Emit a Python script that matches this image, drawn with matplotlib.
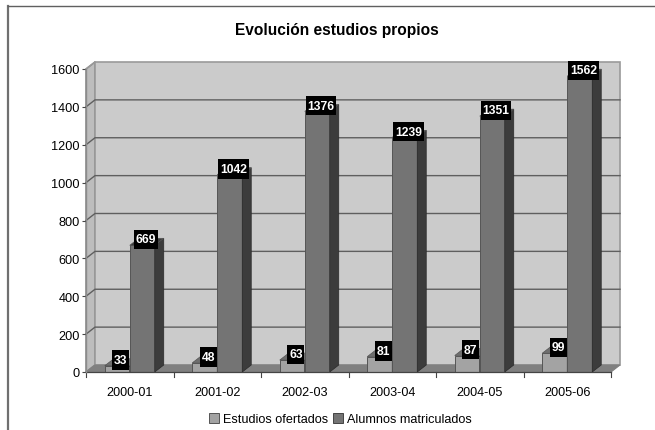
import matplotlib
matplotlib.use("Agg")
import matplotlib.pyplot as plt
from matplotlib.patches import Polygon, Patch

plt.rcParams['font.family'] = ['Liberation Sans', 'DejaVu Sans']

# data
cursos = ["2000-01", "2001-02", "2002-03", "2003-04", "2004-05", "2005-06"]
ofertados = [33, 48, 63, 81, 87, 99]
alumnos = [669, 1042, 1376, 1239, 1351, 1562]
y_ticks = [0, 200, 400, 600, 800, 1000, 1200, 1400, 1600]

W, H = 655, 431
fig = plt.figure(figsize=(W / 100, H / 100), dpi=100)

# front plane of the fake 3d box, in pixels
left, right, top, bottom = 86, 611, 70, 373
ax = fig.add_axes([left / W, 1 - bottom / H, (right - left) / W, (bottom - top) / H])
ax.set_xlim(-0.5, 5.5)
ax.set_ylim(0, 1600)
ax.patch.set_visible(False)
for s in ax.spines.values():
    s.set_visible(False)

# depth of the box in data units
dx = 9 / ((right - left) / 6)
dy = 7 * 1600 / (bottom - top)
x0, x1 = -0.5, 5.5
bw = 25 / ((right - left) / 6)


def poly(pts, fc, ec="none", lw=0.8, z=1):
    ax.add_patch(Polygon(pts, closed=True, fc=fc, ec=ec, lw=lw, zorder=z, clip_on=False))


# walls
poly([(x0, 0), (x0 + dx, dy), (x0 + dx, 1600 + dy), (x0, 1600)], "#bdbdbd", "#8c8c8c", 1.2)
poly([(x0 + dx, dy), (x1 + dx, dy), (x1 + dx, 1600 + dy), (x0 + dx, 1600 + dy)], "#cbcbcb", "#9a9a9a", 1.2)
poly([(x0, 0), (x1, 0), (x1 + dx, dy), (x0 + dx, dy)], "#808080", "#808080", 0.8)

# grid lines, back wall and the slanted stub on the side wall
for t in y_ticks[1:-1]:
    ax.plot([x0, x0 + dx, x1 + dx], [t, t + dy, t + dy], color="#5f5f5f", lw=1.0, zorder=2, clip_on=False)
ax.plot([x0, x0 + dx], [1600, 1600 + dy], color="#9a9a9a", lw=1.0, zorder=2, clip_on=False)


def bar3d(x, v, front, side, tope):
    a, b = x - bw, x
    ax.bar(a, v, width=bw, align="edge", color=front, edgecolor="#555555", lw=0.7, zorder=3)
    poly([(b, 0), (b + dx, dy), (b + dx, v + dy), (b, v)], side, "#2a2a2a", 0.5, 3)
    poly([(a, v), (b, v), (b + dx, v + dy), (a + dx, v + dy)], tope, "#555555", 0.5, 3)


for i in range(len(cursos)):
    bar3d(i, ofertados[i], "#a3a3a3", "#6e6e6e", "#6e6e6e")
    bar3d(i + bw, alumnos[i], "#747474", "#3c3c3c", "#3c3c3c")

# value labels
for i in range(len(cursos)):
    for x, v in ((i - bw / 2, ofertados[i]), (i + bw / 2, alumnos[i])):
        ax.annotate(str(v), (x, v), xytext=(2.6, 4.2), textcoords="offset points",
                    ha="center", va="center", color="white", fontsize=8.7, fontweight="bold",
                    bbox=dict(boxstyle="square,pad=0.14", mutation_aspect=2.2, fc="black", ec="black", lw=0),
                    zorder=6, annotation_clip=False)

ax.set_yticks(y_ticks)
ax.tick_params(axis="y", labelsize=9.2, length=3, width=0.8, color="#444444", pad=1.5)
ax.set_xticks(range(len(cursos)))
ax.set_xticklabels(cursos)
ax.tick_params(axis="x", length=0, labelsize=9.1, pad=10)
# ticks between the categories
for i in range(len(cursos) + 1):
    ax.plot([x0 + i, x0 + i], [0, -24], color="#444444", lw=0.8, zorder=5, clip_on=False)
ax.plot([x0, x1], [0, 0], color="#444444", lw=0.9, zorder=5, clip_on=False)
ax.plot([x0, x0], [0, 1600], color="#8c8c8c", lw=1.0, zorder=5, clip_on=False)

fig.text(336.5 / W, 1 - 30 / H, "Evolución estudios propios", ha="center", va="center",
         fontsize=11.2, fontweight="bold", color="black")

fig.legend(handles=[Patch(fc="#a3a3a3", ec="#555555", lw=0.7, label="Estudios ofertados"),
                    Patch(fc="#747474", ec="#444444", lw=0.7, label="Alumnos matriculados")],
           loc="center", bbox_to_anchor=(340 / W, 1 - 420 / H), ncol=2, frameon=False,
           fontsize=9.1, handlelength=0.8, handleheight=0.8, handletextpad=0.3,
           columnspacing=0.4, borderpad=0, borderaxespad=0)

# outer frame of the pasted chart, only top and left are visible
fig.add_artist(plt.Line2D([8 / W, 8 / W], [0, 1 - 7 / H], color="#707070", lw=1.6))
fig.add_artist(plt.Line2D([8 / W, 1], [1 - 7 / H, 1 - 7 / H], color="#606060", lw=1.0))

fig.savefig("out.png", dpi=100)
